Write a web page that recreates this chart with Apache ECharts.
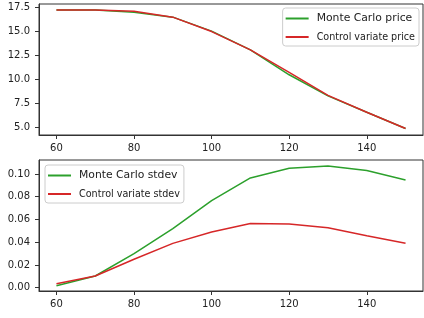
<!DOCTYPE html>
<html><head><meta charset="utf-8">
<script src="https://cdn.jsdelivr.net/npm/echarts@6/dist/echarts.min.js"></script>
<style>html,body{margin:0;padding:0;background:#fff}#c{width:424px;height:318px}</style>
</head><body><div id="c"></div>
<script>
var strikes = [60, 70, 80, 90, 100, 110, 120, 130, 140, 150];
var mcPrice = [17.25, 17.25, 17.0, 16.5, 15.05, 13.1, 10.5, 8.3, 6.6, 4.9];
var cvPrice = [17.25, 17.25, 17.12, 16.5, 15.0, 13.1, 10.75, 8.35, 6.6, 4.9];
var mcStdev = [0.0018, 0.0103, 0.030, 0.052, 0.0765, 0.0965, 0.105, 0.107, 0.103, 0.0947];
var cvStdev = [0.0035, 0.0103, 0.025, 0.039, 0.049, 0.0565, 0.056, 0.0527, 0.0456, 0.039];
var xTicks = [60, 80, 100, 120, 140];
var priceTicks = [5.0, 7.5, 10.0, 12.5, 15.0, 17.5];
var stdevTicks = [0.00, 0.02, 0.04, 0.06, 0.08, 0.10];

var GREEN = '#2ca02c', RED = '#d62728';
var font = 'DejaVu Sans';
function pairs(xs, ys){ return xs.map(function(x,i){return [x, ys[i]];}); }
function xAxis(gi){
  return {type:'value', gridIndex:gi, min:55.5, max:154.5,
    axisLine:{show:true, onZero:false, lineStyle:{color:'#333', width:1}},
    axisTick:{show:true, length:4, lineStyle:{color:'#333'}, customValues:xTicks},
    axisLabel:{margin:8, fontSize:10, fontFamily:font, color:'#222', customValues:xTicks},
    splitLine:{show:false}};
}
function yAxis(gi, mn, mx, ticks, dec){
  return {type:'value', gridIndex:gi, min:mn, max:mx,
    axisLine:{show:true, onZero:false, lineStyle:{color:'#333', width:1}},
    axisTick:{show:true, length:4, lineStyle:{color:'#333'}, customValues:ticks},
    axisLabel:{margin:9, fontSize:10, fontFamily:font, color:'#222', customValues:ticks,
      formatter:function(v){return v.toFixed(dec);}},
    splitLine:{show:false}};
}
function line(name, xi, data, color){
  return {name:name, type:'line', xAxisIndex:xi, yAxisIndex:xi, data:data, showSymbol:false,
    symbol:'none', lineStyle:{color:color, width:1.5}, itemStyle:{color:color}, animation:false};
}
var chart = echarts.init(document.getElementById('c'), null, {renderer:'canvas'});
chart.setOption({
  animation:false,
  grid:[
    {left:39, top:4, width:384, height:131, show:true, borderColor:'#333', borderWidth:1, backgroundColor:'transparent'},
    {left:39, top:160, width:384, height:131, show:true, borderColor:'#333', borderWidth:1, backgroundColor:'transparent'}
  ],
  xAxis:[xAxis(0), xAxis(1)],
  yAxis:[yAxis(0, 4.23, 17.87, priceTicks, 1), yAxis(1, -0.0029, 0.1123, stdevTicks, 2)],
  legend:[
    {orient:'vertical', right:5, top:8, itemWidth:23, itemHeight:2, itemGap:8, icon:'rect',
     borderColor:'#ccc', borderWidth:1, borderRadius:3, padding:[5,4,4,3], backgroundColor:'#fff',
     data:[{name:'Monte Carlo price', textStyle:{fontSize:10.8}}, {name:'Control variate price', textStyle:{fontSize:9.6}}],
     textStyle:{fontFamily:font, color:'#222', padding:[0,0,0,3]}},
    {orient:'vertical', left:45, top:165, itemWidth:23, itemHeight:2, itemGap:8, icon:'rect',
     borderColor:'#ccc', borderWidth:1, borderRadius:3, padding:[5,4,4,3], backgroundColor:'#fff',
     data:[{name:'Monte Carlo stdev', textStyle:{fontSize:10.8}}, {name:'Control variate stdev', textStyle:{fontSize:9.6}}],
     textStyle:{fontFamily:font, color:'#222', padding:[0,0,0,3]}}
  ],
  series:[
    line('Monte Carlo price', 0, pairs(strikes, mcPrice), GREEN),
    line('Control variate price', 0, pairs(strikes, cvPrice), RED),
    line('Monte Carlo stdev', 1, pairs(strikes, mcStdev), GREEN),
    line('Control variate stdev', 1, pairs(strikes, cvStdev), RED)
  ]
});
</script></body></html>
